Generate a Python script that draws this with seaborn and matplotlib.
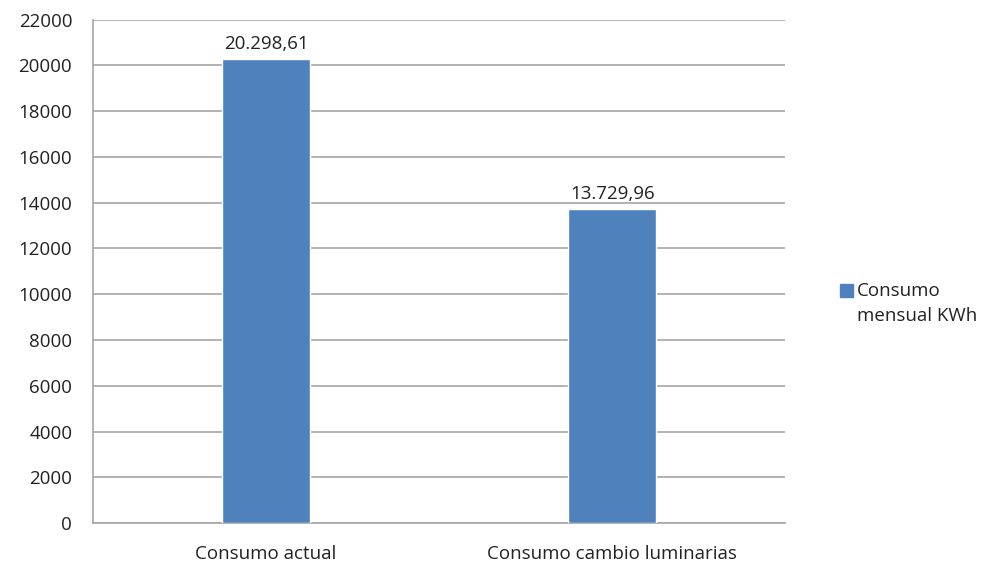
import matplotlib
matplotlib.use("Agg")
import matplotlib.pyplot as plt
import matplotlib.patches as mpatches
from matplotlib.legend_handler import HandlerPatch
import seaborn as sns
import pandas as pd

categories = ["Consumo actual", "Consumo cambio luminarias"]
values = [20298.61, 13729.96]
series_name = "Consumo\nmensual KWh"
y_ticks = [0, 2000, 4000, 6000, 8000, 10000, 12000, 14000, 16000, 18000, 20000, 22000]

bar_color = "#4F81BD"
text_color = "#222222"
grid_color = "#A6A6A6"
font_size = 13.5

sns.set_style("white")
plt.rcParams["font.family"] = ["Open Sans", "DejaVu Sans"]

df = pd.DataFrame({"categoria": categories, "valor": values})

fig = plt.figure(figsize=(9.89, 5.63), dpi=100)
ax = fig.add_axes([0.094, 0.071, 0.700, 0.894])

sns.barplot(data=df, x="categoria", y="valor", color=bar_color, width=0.254,
            saturation=1, ax=ax, zorder=3)

def es_fmt(v):
    s = f"{v:,.2f}"
    return s.replace(",", "#").replace(".", ",").replace("#", ".")

ax.bar_label(ax.containers[0], labels=[es_fmt(v) for v in values],
             padding=4, fontsize=font_size, color=text_color)

ax.set_ylim(0, 22000)
ax.set_xlim(-0.5, 1.5)
ax.set_yticks(y_ticks)
ax.set_yticklabels([str(t) for t in y_ticks])
ax.yaxis.grid(True, color=grid_color, linewidth=1.2, zorder=0)
ax.set_axisbelow(True)
ax.tick_params(axis="both", length=0, labelsize=font_size, colors=text_color)
ax.tick_params(axis="y", pad=15)
ax.tick_params(axis="x", pad=16)
ax.set_xlabel("")
ax.set_ylabel("")

for side in ["top", "right"]:
    ax.spines[side].set_visible(False)
for side in ["left", "bottom"]:
    ax.spines[side].set_color(grid_color)
    ax.spines[side].set_linewidth(1.2)


# Legend swatch sits beside the first line of the two-line label
def top_swatch(legend, orig_handle, xdescent, ydescent, width, height, fontsize):
    return mpatches.Rectangle((-xdescent, -ydescent + 0.73 * fontsize), width, height)


handle = mpatches.Patch(color=bar_color, label=series_name)
leg = fig.legend(handles=[handle], loc="upper left",
                 bbox_to_anchor=(0.8415, 0.512), frameon=False,
                 fontsize=font_size, handlelength=0.7, handleheight=0.7,
                 handletextpad=0.2, borderaxespad=0,
                 handler_map={mpatches.Patch: HandlerPatch(patch_func=top_swatch)})
for t in leg.get_texts():
    t.set_color(text_color)
    t.set_linespacing(1.45)

fig.savefig("out.png", dpi=100)
